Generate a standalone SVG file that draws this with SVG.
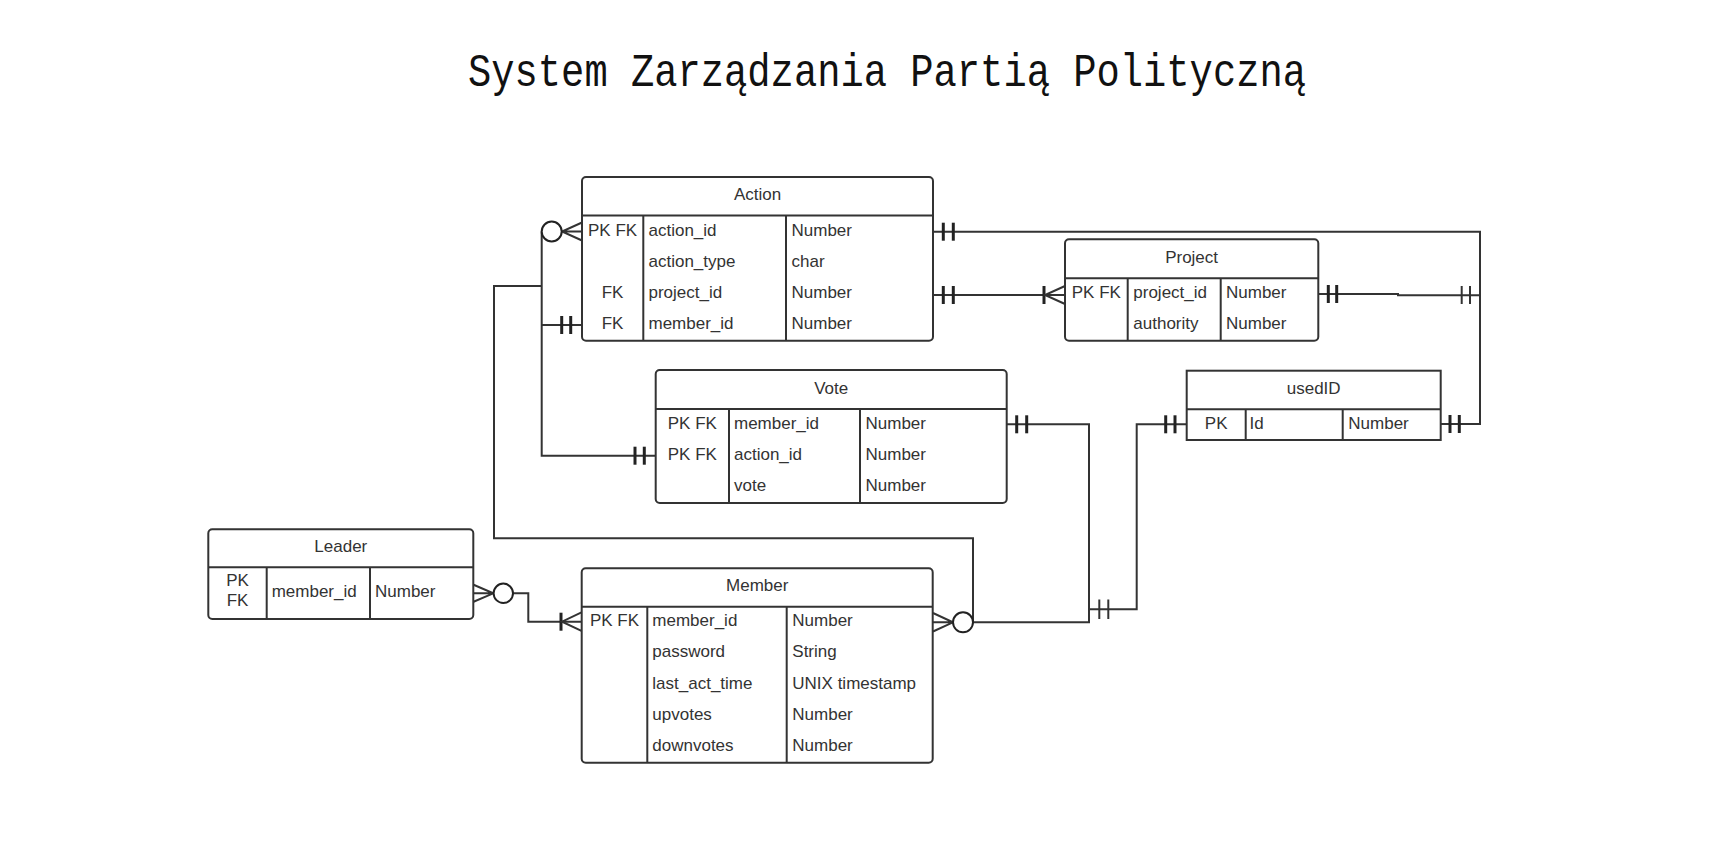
<svg xmlns="http://www.w3.org/2000/svg" width="1715" height="841" viewBox="0 0 1715 841">
<style>
.box{fill:#fff;stroke:#333;stroke-width:2}
.ln{fill:none;stroke:#333;stroke-width:2}
.t{font-family:"Liberation Sans",Arial,sans-serif;font-size:17px;fill:#333}
.h{text-anchor:middle}
.c{text-anchor:middle}
.bar{stroke:#222;stroke-width:3}
.thin{stroke:#333;stroke-width:2}
.circ{fill:#fff;stroke:#222;stroke-width:2}
.title{font-family:"Liberation Mono","DejaVu Sans Mono",monospace;font-size:46px;fill:#111}
</style>
<rect width="1715" height="841" fill="#fff"/>
<text class="title" x="468" y="86" textLength="838" lengthAdjust="spacingAndGlyphs">System Zarządzania Partią Polityczną</text>

<g id="connectors">
  <path class="ln" d="M933,231.7 H1480 V424 H1441"/>
  <line class="bar" x1="943.3" y1="222.7" x2="943.3" y2="240.7"/>
  <line class="bar" x1="953.3" y1="222.7" x2="953.3" y2="240.7"/>
  <line class="bar" x1="1450" y1="415" x2="1450" y2="433"/>
  <line class="bar" x1="1459.3" y1="415" x2="1459.3" y2="433"/>
  <path class="ln" d="M933,295 H1065"/>
  <line class="bar" x1="943.3" y1="286" x2="943.3" y2="304"/>
  <line class="bar" x1="953.3" y1="286" x2="953.3" y2="304"/>
  <line class="bar" x1="1044" y1="286" x2="1044" y2="304"/>
  <path class="ln" d="M1065,286 L1045,295 L1065,304"/>
  <path class="ln" d="M1318,294 H1398 V295.3 H1480"/>
  <line class="bar" x1="1328.3" y1="285" x2="1328.3" y2="303"/>
  <line class="bar" x1="1336.7" y1="285" x2="1336.7" y2="303"/>
  <line class="thin" x1="1461.7" y1="286" x2="1461.7" y2="304"/>
  <line class="thin" x1="1470" y1="286" x2="1470" y2="304"/>
  <path class="ln" d="M1007,424.3 H1089 V622.3 H973"/>
  <line class="bar" x1="1016.7" y1="415.3" x2="1016.7" y2="433.3"/>
  <line class="bar" x1="1026.7" y1="415.3" x2="1026.7" y2="433.3"/>
  <path class="ln" d="M1089,609.3 H1136.7 V424.3 H1186.7"/>
  <line class="thin" x1="1099.3" y1="599.5" x2="1099.3" y2="619"/>
  <line class="thin" x1="1108.3" y1="599.5" x2="1108.3" y2="619"/>
  <line class="bar" x1="1165.7" y1="415.3" x2="1165.7" y2="433.3"/>
  <line class="bar" x1="1175" y1="415.3" x2="1175" y2="433.3"/>
  <path class="ln" d="M973,622.3 V538.3 H494 V286 H541.7"/>
  <path class="ln" d="M541.7,231.5 V455.7 H655.7"/>
  <path class="ln" d="M541.7,325 H582"/>
  <line class="bar" x1="561.7" y1="316" x2="561.7" y2="334"/>
  <line class="bar" x1="570.7" y1="316" x2="570.7" y2="334"/>
  <line class="bar" x1="635" y1="446.7" x2="635" y2="464.7"/>
  <line class="bar" x1="644.3" y1="446.7" x2="644.3" y2="464.7"/>
  <path class="ln" d="M582,222.5 L562,231.5 L582,240.5 M562,231.5 H582"/>
  <circle class="circ" cx="551.7" cy="231.5" r="10"/>
  <path class="ln" d="M933,613 L953,622.3 L933,631.5 M933,622.3 H953"/>
  <circle class="circ" cx="963" cy="622.3" r="10"/>
  <path class="ln" d="M473,584.5 L493.3,593.3 L473,602 M473,593.3 H493.3"/>
  <path class="ln" d="M513,593.3 H528.3 V621.7 H582"/>
  <circle class="circ" cx="503.3" cy="593.3" r="9.7"/>
  <line class="bar" x1="561" y1="612.7" x2="561" y2="630.7"/>
  <path class="ln" d="M582,612.2 L562,621.7 L582,631.2"/>
</g>

<g id="Action">
  <rect class="box" x="582" y="177" width="351" height="163.7" rx="4"/>
  <path class="ln" d="M582,215.5 H933 M643.3,215.5 V340.7 M786,215.5 V340.7"/>
  <text class="t h" x="757.5" y="199.5">Action</text>
  <text class="t c" x="612.6" y="235.5">PK FK</text>
  <text class="t" x="648.5" y="235.5">action_id</text>
  <text class="t" x="791.5" y="235.5">Number</text>
  <text class="t" x="648.5" y="266.5">action_type</text>
  <text class="t" x="791.5" y="266.5">char</text>
  <text class="t c" x="612.6" y="298">FK</text>
  <text class="t" x="648.5" y="298">project_id</text>
  <text class="t" x="791.5" y="298">Number</text>
  <text class="t c" x="612.6" y="329">FK</text>
  <text class="t" x="648.5" y="329">member_id</text>
  <text class="t" x="791.5" y="329">Number</text>
</g>

<g id="Project">
  <rect class="box" x="1065" y="239.3" width="253.3" height="101.4" rx="4"/>
  <path class="ln" d="M1065,278.3 H1318.3 M1127.7,278.3 V340.7 M1220.7,278.3 V340.7"/>
  <text class="t h" x="1191.6" y="262.5">Project</text>
  <text class="t c" x="1096.3" y="298">PK FK</text>
  <text class="t" x="1133.3" y="298">project_id</text>
  <text class="t" x="1226" y="298">Number</text>
  <text class="t" x="1133.3" y="329">authority</text>
  <text class="t" x="1226" y="329">Number</text>
</g>

<g id="Vote">
  <rect class="box" x="655.7" y="370" width="351" height="133" rx="4"/>
  <path class="ln" d="M655.7,409 H1006.7 M729,409 V503 M860,409 V503"/>
  <text class="t h" x="831.2" y="393.5">Vote</text>
  <text class="t c" x="692.3" y="428.5">PK FK</text>
  <text class="t" x="734" y="428.5">member_id</text>
  <text class="t" x="865.5" y="428.5">Number</text>
  <text class="t c" x="692.3" y="460">PK FK</text>
  <text class="t" x="734" y="460">action_id</text>
  <text class="t" x="865.5" y="460">Number</text>
  <text class="t" x="734" y="491">vote</text>
  <text class="t" x="865.5" y="491">Number</text>
</g>

<g id="usedID">
  <rect class="box" x="1186.7" y="370.7" width="254" height="69.3"/>
  <path class="ln" d="M1186.7,409.3 H1440.7 M1245.7,409.3 V440 M1342.7,409.3 V440"/>
  <text class="t h" x="1313.7" y="393.5">usedID</text>
  <text class="t c" x="1216.2" y="428.5">PK</text>
  <text class="t" x="1249.5" y="428.5">Id</text>
  <text class="t" x="1348.3" y="428.5">Number</text>
</g>

<g id="Leader">
  <rect class="box" x="208.3" y="529.3" width="265" height="89.7" rx="4"/>
  <path class="ln" d="M208.3,567.3 H473.3 M266.7,567.3 V619 M370,567.3 V619"/>
  <text class="t h" x="340.8" y="551.5">Leader</text>
  <text class="t c" x="237.5" y="586">PK</text>
  <text class="t c" x="237.5" y="606">FK</text>
  <text class="t" x="271.7" y="597">member_id</text>
  <text class="t" x="375" y="597">Number</text>
</g>

<g id="Member">
  <rect class="box" x="581.7" y="568.3" width="351" height="194.4" rx="4"/>
  <path class="ln" d="M581.7,606.7 H932.7 M647.3,606.7 V762.7 M786.7,606.7 V762.7"/>
  <text class="t h" x="757.2" y="590.5">Member</text>
  <text class="t c" x="614.5" y="626">PK FK</text>
  <text class="t" x="652.3" y="626">member_id</text>
  <text class="t" x="792.3" y="626">Number</text>
  <text class="t" x="652.3" y="657">password</text>
  <text class="t" x="792.3" y="657">String</text>
  <text class="t" x="652.3" y="688.5">last_act_time</text>
  <text class="t" x="792.3" y="688.5">UNIX timestamp</text>
  <text class="t" x="652.3" y="719.5">upvotes</text>
  <text class="t" x="792.3" y="719.5">Number</text>
  <text class="t" x="652.3" y="750.5">downvotes</text>
  <text class="t" x="792.3" y="750.5">Number</text>
</g>
</svg>
